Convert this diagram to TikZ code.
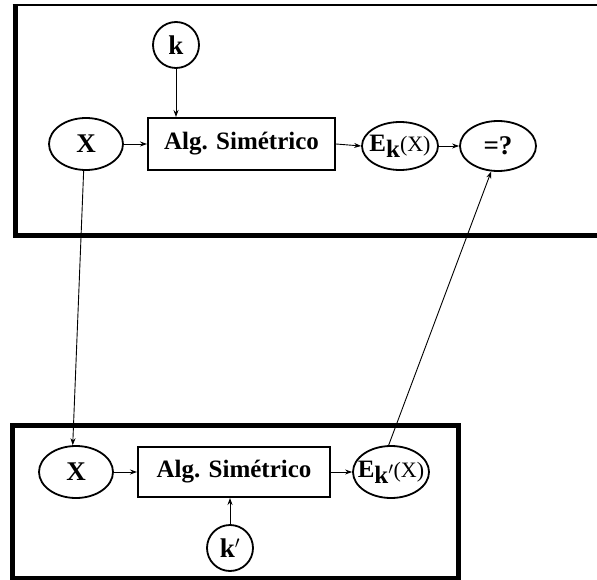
\documentclass[tikz,border=0pt]{standalone}
\usepackage{fontspec}
\setmainfont{Liberation Serif}
\usetikzlibrary{shapes.geometric,arrows.meta}
\begin{document}
\begin{tikzpicture}[x=1pt,y=-1pt,
  lbl/.style={font=\fontsize{27}{29}\selectfont\bfseries,inner sep=0pt},
  albl/.style={font=\fontsize{25}{27}\selectfont\bfseries,inner sep=0pt},
  elbl/.style={font=\fontsize{25}{27}\selectfont\bfseries,inner sep=0pt},
  ell/.style={ellipse,draw,line width=1.8pt,inner sep=0pt},
  circ/.style={circle,draw,line width=1.8pt,inner sep=0pt,minimum size=46pt,lbl},
  algbox/.style={rectangle,draw,line width=2pt,inner sep=0pt,albl},
  conn/.style={line width=0.9pt,-{Stealth[length=7pt,width=5pt]}},
  frame/.style={line width=5pt}
]
\useasboundingbox (0,0) rectangle (597,580);
% frames
\draw[line width=2.5pt] (12.5,5) -- (620,5);
\draw[frame] (620,236) -- (15,236) -- (15,3.8);
\draw[frame] (12.5,425) rectangle (458,578);
% top row
\node[circ] (k) at (176,45) {k};
\node[ell,minimum width=74pt,minimum height=52pt,label={[lbl]center:X}] (x1) at (86,144) {};
\node[algbox,minimum width=187pt,minimum height=52pt] (a1) at (241.5,144) {Alg. Simétrico};
\node[ell,minimum width=76pt,minimum height=48pt,
  label={[elbl]center:E\raisebox{-6pt}{k}{\fontsize{22}{24}\selectfont\mdseries(X)}}] (e1) at (400,146) {};
\node[ell,minimum width=76pt,minimum height=50pt,label={[lbl]center:=?}] (q) at (498,146) {};
% bottom row
\node[ell,minimum width=74pt,minimum height=52pt,label={[lbl]center:X}] (x2) at (76,472) {};
\node[algbox,minimum width=192pt,minimum height=50pt] (a2) at (234,472) {Alg. Simétrico};
\node[ell,minimum width=76pt,minimum height=52pt,
  label={[elbl]center:E\raisebox{-6pt}{k$'$}{\fontsize{22}{24}\selectfont\mdseries(X)}}] (e2) at (391,472) {};
\node[circ] (k2) at (230,548) {k$'$};
% connectors
\draw[conn] (k) -- (k |- a1.north);
\draw[conn] (x1.east) -- (a1.west |- x1.east);
\draw[conn] (a1.east) -- (e1.west);
\draw[conn] (e1.east) -- (q.west);
\draw[conn] (x2.east) -- (a2.west |- x2.east);
\draw[conn] (a2.east) -- (e2.west);
\draw[conn] (k2) -- (k2 |- a2.south);
\draw[conn] (x1.265) -- (x2.97);
\draw[conn] (e2.95) -- (q.255);
\end{tikzpicture}
\end{document}
